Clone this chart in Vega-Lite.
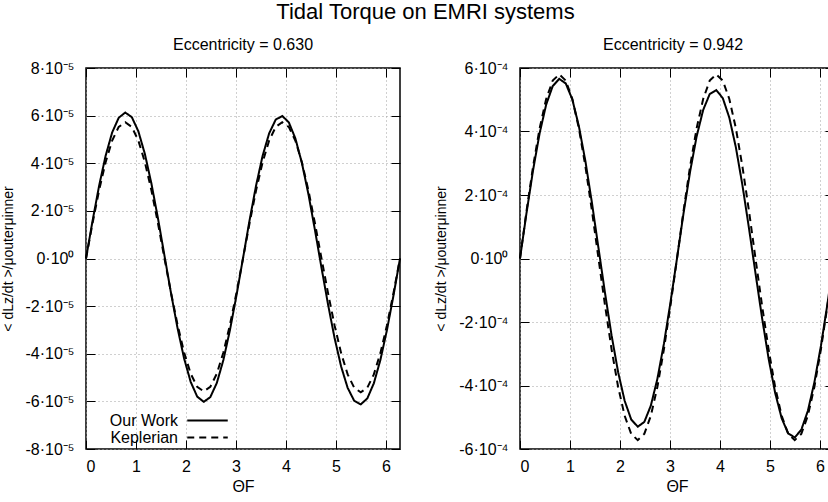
{
  "$schema": "https://vega.github.io/schema/vega-lite/v6.json",
  "padding": {"left": 0, "top": 1, "right": 0, "bottom": 0},
  "background": "white",
  "title": {"text": "Tidal Torque on EMRI systems", "fontSize": 22, "font": "Liberation Sans", "fontWeight": "normal", "color": "black", "anchor": "middle", "offset": 12, "dx": 6},
  "spacing": 29,
  "config": {
    "view": {"stroke": "black", "strokeWidth": 1.5},
    "axis": {"labelFont": "Liberation Sans", "labelFontSize": 16, "labelColor": "black", "titleFont": "Liberation Sans", "titleFontWeight": "normal", "titleColor": "black", "titleFontSize": 16, "tickColor": "black", "tickSize": -9, "tickWidth": 1, "domain": false, "gridColor": "#a0a0a0", "gridDash": [1, 3], "gridWidth": 1, "labelPadding": 18}
  },
  "resolve": {"scale": {"x": "independent", "y": "independent", "strokeDash": "independent"}, "legend": {"strokeDash": "independent"}},
  "datasets": {
    "left": [
      {"theta":0,"torque":0,"model":"Our Work"},
      {"theta":0.1309,"torque":1.578e-5,"model":"Our Work"},
      {"theta":0.2618,"torque":3.048e-5,"model":"Our Work"},
      {"theta":0.3927,"torque":4.314e-5,"model":"Our Work"},
      {"theta":0.5236,"torque":5.294e-5,"model":"Our Work"},
      {"theta":0.6545,"torque":5.909e-5,"model":"Our Work"},
      {"theta":0.7854,"torque":6.130e-5,"model":"Our Work"},
      {"theta":0.9163,"torque":5.938e-5,"model":"Our Work"},
      {"theta":1.0472,"torque":5.345e-5,"model":"Our Work"},
      {"theta":1.1781,"torque":4.391e-5,"model":"Our Work"},
      {"theta":1.3090,"torque":3.147e-5,"model":"Our Work"},
      {"theta":1.4399,"torque":1.690e-5,"model":"Our Work"},
      {"theta":1.5708,"torque":0.113e-5,"model":"Our Work"},
      {"theta":1.7017,"torque":-1.461e-5,"model":"Our Work"},
      {"theta":1.8326,"torque":-2.932e-5,"model":"Our Work"},
      {"theta":1.9635,"torque":-4.201e-5,"model":"Our Work"},
      {"theta":2.0944,"torque":-5.179e-5,"model":"Our Work"},
      {"theta":2.2253,"torque":-5.801e-5,"model":"Our Work"},
      {"theta":2.3562,"torque":-6.020e-5,"model":"Our Work"},
      {"theta":2.4871,"torque":-5.822e-5,"model":"Our Work"},
      {"theta":2.6180,"torque":-5.225e-5,"model":"Our Work"},
      {"theta":2.7489,"torque":-4.265e-5,"model":"Our Work"},
      {"theta":2.8798,"torque":-3.012e-5,"model":"Our Work"},
      {"theta":3.0107,"torque":-1.555e-5,"model":"Our Work"},
      {"theta":3.1416,"torque":0.010e-5,"model":"Our Work"},
      {"theta":3.2725,"torque":1.599e-5,"model":"Our Work"},
      {"theta":3.4034,"torque":3.066e-5,"model":"Our Work"},
      {"theta":3.5343,"torque":4.314e-5,"model":"Our Work"},
      {"theta":3.6652,"torque":5.258e-5,"model":"Our Work"},
      {"theta":3.7961,"torque":5.831e-5,"model":"Our Work"},
      {"theta":3.9270,"torque":5.986e-5,"model":"Our Work"},
      {"theta":4.0579,"torque":5.719e-5,"model":"Our Work"},
      {"theta":4.1888,"torque":5.047e-5,"model":"Our Work"},
      {"theta":4.3197,"torque":4.014e-5,"model":"Our Work"},
      {"theta":4.4506,"torque":2.701e-5,"model":"Our Work"},
      {"theta":4.5815,"torque":1.194e-5,"model":"Our Work"},
      {"theta":4.7124,"torque":-0.389e-5,"model":"Our Work"},
      {"theta":4.8433,"torque":-1.928e-5,"model":"Our Work"},
      {"theta":4.9742,"torque":-3.341e-5,"model":"Our Work"},
      {"theta":5.1051,"torque":-4.536e-5,"model":"Our Work"},
      {"theta":5.2360,"torque":-5.433e-5,"model":"Our Work"},
      {"theta":5.3669,"torque":-5.976e-5,"model":"Our Work"},
      {"theta":5.4978,"torque":-6.127e-5,"model":"Our Work"},
      {"theta":5.6287,"torque":-5.877e-5,"model":"Our Work"},
      {"theta":5.7596,"torque":-5.241e-5,"model":"Our Work"},
      {"theta":5.8905,"torque":-4.263e-5,"model":"Our Work"},
      {"theta":6.0214,"torque":-3.009e-5,"model":"Our Work"},
      {"theta":6.1523,"torque":-1.561e-5,"model":"Our Work"},
      {"theta":6.2832,"torque":0,"model":"Our Work"},
      {"theta":0,"torque":0,"model":"Keplerian"},
      {"theta":0.1309,"torque":1.480e-5,"model":"Keplerian"},
      {"theta":0.2618,"torque":2.860e-5,"model":"Keplerian"},
      {"theta":0.3927,"torque":4.045e-5,"model":"Keplerian"},
      {"theta":0.5236,"torque":4.954e-5,"model":"Keplerian"},
      {"theta":0.6545,"torque":5.525e-5,"model":"Keplerian"},
      {"theta":0.7854,"torque":5.720e-5,"model":"Keplerian"},
      {"theta":0.9163,"torque":5.525e-5,"model":"Keplerian"},
      {"theta":1.0472,"torque":4.954e-5,"model":"Keplerian"},
      {"theta":1.1781,"torque":4.045e-5,"model":"Keplerian"},
      {"theta":1.3090,"torque":2.860e-5,"model":"Keplerian"},
      {"theta":1.4399,"torque":1.480e-5,"model":"Keplerian"},
      {"theta":1.5708,"torque":0,"model":"Keplerian"},
      {"theta":1.7017,"torque":-1.444e-5,"model":"Keplerian"},
      {"theta":1.8326,"torque":-2.790e-5,"model":"Keplerian"},
      {"theta":1.9635,"torque":-3.946e-5,"model":"Keplerian"},
      {"theta":2.0944,"torque":-4.832e-5,"model":"Keplerian"},
      {"theta":2.2253,"torque":-5.390e-5,"model":"Keplerian"},
      {"theta":2.3562,"torque":-5.580e-5,"model":"Keplerian"},
      {"theta":2.4871,"torque":-5.390e-5,"model":"Keplerian"},
      {"theta":2.6180,"torque":-4.832e-5,"model":"Keplerian"},
      {"theta":2.7489,"torque":-3.946e-5,"model":"Keplerian"},
      {"theta":2.8798,"torque":-2.790e-5,"model":"Keplerian"},
      {"theta":3.0107,"torque":-1.444e-5,"model":"Keplerian"},
      {"theta":3.1416,"torque":0,"model":"Keplerian"},
      {"theta":3.2725,"torque":1.480e-5,"model":"Keplerian"},
      {"theta":3.4034,"torque":2.860e-5,"model":"Keplerian"},
      {"theta":3.5343,"torque":4.045e-5,"model":"Keplerian"},
      {"theta":3.6652,"torque":4.954e-5,"model":"Keplerian"},
      {"theta":3.7961,"torque":5.525e-5,"model":"Keplerian"},
      {"theta":3.9270,"torque":5.720e-5,"model":"Keplerian"},
      {"theta":4.0579,"torque":5.525e-5,"model":"Keplerian"},
      {"theta":4.1888,"torque":4.954e-5,"model":"Keplerian"},
      {"theta":4.3197,"torque":4.045e-5,"model":"Keplerian"},
      {"theta":4.4506,"torque":2.860e-5,"model":"Keplerian"},
      {"theta":4.5815,"torque":1.480e-5,"model":"Keplerian"},
      {"theta":4.7124,"torque":0,"model":"Keplerian"},
      {"theta":4.8433,"torque":-1.454e-5,"model":"Keplerian"},
      {"theta":4.9742,"torque":-2.810e-5,"model":"Keplerian"},
      {"theta":5.1051,"torque":-3.974e-5,"model":"Keplerian"},
      {"theta":5.2360,"torque":-4.867e-5,"model":"Keplerian"},
      {"theta":5.3669,"torque":-5.428e-5,"model":"Keplerian"},
      {"theta":5.4978,"torque":-5.620e-5,"model":"Keplerian"},
      {"theta":5.6287,"torque":-5.428e-5,"model":"Keplerian"},
      {"theta":5.7596,"torque":-4.867e-5,"model":"Keplerian"},
      {"theta":5.8905,"torque":-3.974e-5,"model":"Keplerian"},
      {"theta":6.0214,"torque":-2.810e-5,"model":"Keplerian"},
      {"theta":6.1523,"torque":-1.454e-5,"model":"Keplerian"},
      {"theta":6.2832,"torque":0,"model":"Keplerian"}
    ],
    "right": [
      {"theta":0,"torque":0,"model":"Our Work"},
      {"theta":0.1309,"torque":1.439e-4,"model":"Our Work"},
      {"theta":0.2618,"torque":2.784e-4,"model":"Our Work"},
      {"theta":0.3927,"torque":3.944e-4,"model":"Our Work"},
      {"theta":0.5236,"torque":4.846e-4,"model":"Our Work"},
      {"theta":0.6545,"torque":5.430e-4,"model":"Our Work"},
      {"theta":0.7854,"torque":5.658e-4,"model":"Our Work"},
      {"theta":0.9163,"torque":5.512e-4,"model":"Our Work"},
      {"theta":1.0472,"torque":5.008e-4,"model":"Our Work"},
      {"theta":1.1781,"torque":4.169e-4,"model":"Our Work"},
      {"theta":1.3090,"torque":3.063e-4,"model":"Our Work"},
      {"theta":1.4399,"torque":1.749e-4,"model":"Our Work"},
      {"theta":1.5708,"torque":0.324e-4,"model":"Our Work"},
      {"theta":1.7017,"torque":-1.092e-4,"model":"Our Work"},
      {"theta":1.8326,"torque":-2.422e-4,"model":"Our Work"},
      {"theta":1.9635,"torque":-3.579e-4,"model":"Our Work"},
      {"theta":2.0944,"torque":-4.483e-4,"model":"Our Work"},
      {"theta":2.2253,"torque":-5.071e-4,"model":"Our Work"},
      {"theta":2.3562,"torque":-5.298e-4,"model":"Our Work"},
      {"theta":2.4871,"torque":-5.149e-4,"model":"Our Work"},
      {"theta":2.6180,"torque":-4.635e-4,"model":"Our Work"},
      {"theta":2.7489,"torque":-3.791e-4,"model":"Our Work"},
      {"theta":2.8798,"torque":-2.684e-4,"model":"Our Work"},
      {"theta":3.0107,"torque":-1.387e-4,"model":"Our Work"},
      {"theta":3.1416,"torque":0.005e-4,"model":"Our Work"},
      {"theta":3.2725,"torque":1.427e-4,"model":"Our Work"},
      {"theta":3.4034,"torque":2.734e-4,"model":"Our Work"},
      {"theta":3.5343,"torque":3.844e-4,"model":"Our Work"},
      {"theta":3.6652,"torque":4.678e-4,"model":"Our Work"},
      {"theta":3.7961,"torque":5.178e-4,"model":"Our Work"},
      {"theta":3.9270,"torque":5.305e-4,"model":"Our Work"},
      {"theta":4.0579,"torque":5.051e-4,"model":"Our Work"},
      {"theta":4.1888,"torque":4.434e-4,"model":"Our Work"},
      {"theta":4.3197,"torque":3.501e-4,"model":"Our Work"},
      {"theta":4.4506,"torque":2.312e-4,"model":"Our Work"},
      {"theta":4.5815,"torque":0.958e-4,"model":"Our Work"},
      {"theta":4.7124,"torque":-0.465e-4,"model":"Our Work"},
      {"theta":4.8433,"torque":-1.867e-4,"model":"Our Work"},
      {"theta":4.9742,"torque":-3.148e-4,"model":"Our Work"},
      {"theta":5.1051,"torque":-4.227e-4,"model":"Our Work"},
      {"theta":5.2360,"torque":-5.031e-4,"model":"Our Work"},
      {"theta":5.3669,"torque":-5.512e-4,"model":"Our Work"},
      {"theta":5.4978,"torque":-5.636e-4,"model":"Our Work"},
      {"theta":5.6287,"torque":-5.394e-4,"model":"Our Work"},
      {"theta":5.7596,"torque":-4.802e-4,"model":"Our Work"},
      {"theta":5.8905,"torque":-3.903e-4,"model":"Our Work"},
      {"theta":6.0214,"torque":-2.753e-4,"model":"Our Work"},
      {"theta":6.1523,"torque":-1.427e-4,"model":"Our Work"},
      {"theta":6.2832,"torque":0,"model":"Our Work"},
      {"theta":0,"torque":0,"model":"Keplerian"},
      {"theta":0.1309,"torque":1.501e-4,"model":"Keplerian"},
      {"theta":0.2618,"torque":2.900e-4,"model":"Keplerian"},
      {"theta":0.3927,"torque":4.101e-4,"model":"Keplerian"},
      {"theta":0.5236,"torque":5.023e-4,"model":"Keplerian"},
      {"theta":0.6545,"torque":5.602e-4,"model":"Keplerian"},
      {"theta":0.7854,"torque":5.800e-4,"model":"Keplerian"},
      {"theta":0.9163,"torque":5.602e-4,"model":"Keplerian"},
      {"theta":1.0472,"torque":5.023e-4,"model":"Keplerian"},
      {"theta":1.1781,"torque":4.101e-4,"model":"Keplerian"},
      {"theta":1.3090,"torque":2.900e-4,"model":"Keplerian"},
      {"theta":1.4399,"torque":1.501e-4,"model":"Keplerian"},
      {"theta":1.5708,"torque":0,"model":"Keplerian"},
      {"theta":1.7017,"torque":-1.480e-4,"model":"Keplerian"},
      {"theta":1.8326,"torque":-2.860e-4,"model":"Keplerian"},
      {"theta":1.9635,"torque":-4.045e-4,"model":"Keplerian"},
      {"theta":2.0944,"torque":-4.954e-4,"model":"Keplerian"},
      {"theta":2.2253,"torque":-5.525e-4,"model":"Keplerian"},
      {"theta":2.3562,"torque":-5.720e-4,"model":"Keplerian"},
      {"theta":2.4871,"torque":-5.525e-4,"model":"Keplerian"},
      {"theta":2.6180,"torque":-4.954e-4,"model":"Keplerian"},
      {"theta":2.7489,"torque":-4.045e-4,"model":"Keplerian"},
      {"theta":2.8798,"torque":-2.860e-4,"model":"Keplerian"},
      {"theta":3.0107,"torque":-1.480e-4,"model":"Keplerian"},
      {"theta":3.1416,"torque":0,"model":"Keplerian"},
      {"theta":3.2725,"torque":1.501e-4,"model":"Keplerian"},
      {"theta":3.4034,"torque":2.900e-4,"model":"Keplerian"},
      {"theta":3.5343,"torque":4.101e-4,"model":"Keplerian"},
      {"theta":3.6652,"torque":5.023e-4,"model":"Keplerian"},
      {"theta":3.7961,"torque":5.602e-4,"model":"Keplerian"},
      {"theta":3.9270,"torque":5.800e-4,"model":"Keplerian"},
      {"theta":4.0579,"torque":5.602e-4,"model":"Keplerian"},
      {"theta":4.1888,"torque":5.023e-4,"model":"Keplerian"},
      {"theta":4.3197,"torque":4.101e-4,"model":"Keplerian"},
      {"theta":4.4506,"torque":2.900e-4,"model":"Keplerian"},
      {"theta":4.5815,"torque":1.501e-4,"model":"Keplerian"},
      {"theta":4.7124,"torque":0,"model":"Keplerian"},
      {"theta":4.8433,"torque":-1.480e-4,"model":"Keplerian"},
      {"theta":4.9742,"torque":-2.860e-4,"model":"Keplerian"},
      {"theta":5.1051,"torque":-4.045e-4,"model":"Keplerian"},
      {"theta":5.2360,"torque":-4.954e-4,"model":"Keplerian"},
      {"theta":5.3669,"torque":-5.525e-4,"model":"Keplerian"},
      {"theta":5.4978,"torque":-5.720e-4,"model":"Keplerian"},
      {"theta":5.6287,"torque":-5.525e-4,"model":"Keplerian"},
      {"theta":5.7596,"torque":-4.954e-4,"model":"Keplerian"},
      {"theta":5.8905,"torque":-4.045e-4,"model":"Keplerian"},
      {"theta":6.0214,"torque":-2.860e-4,"model":"Keplerian"},
      {"theta":6.1523,"torque":-1.480e-4,"model":"Keplerian"},
      {"theta":6.2832,"torque":0,"model":"Keplerian"}
    ]
  },
  "hconcat": [
    {
      "width": 314,
      "height": 381,
      "data": {"name": "left"},
      "title": {"text": "Eccentricity = 0.630", "fontSize": 16, "font": "Liberation Sans", "fontWeight": "normal", "color": "black", "anchor": "middle", "frame": "group", "offset": 7},
      "resolve": {"axis": {"x": "independent", "y": "independent"}},
      "layer": [
        {
          "mark": {"type": "line", "color": "black", "strokeWidth": 2},
          "encoding": {
            "x": {"field": "theta", "type": "quantitative", "scale": {"domain": [0, 6.2832], "nice": false, "zero": false},
                  "axis": {"values": [0, 1, 2, 3, 4, 5, 6], "title": "ΘF", "grid": true, "titlePadding": 4}},
            "y": {"field": "torque", "type": "quantitative", "scale": {"domain": [-8e-5, 8e-5], "nice": false},
                  "axis": {"values": [-8e-5, -6e-5, -4e-5, -2e-5, 0, 2e-5, 4e-5, 6e-5, 8e-5], "labelExpr": "datum.value == 0 ? '0·10⁰' : round(datum.value*1e5) + '·10⁻⁵'", "title": "< dLz/dt >/μouterμinner", "titleFontSize": 14, "grid": true, "titlePadding": 10, "labelPadding": 21}},
            "strokeDash": {"field": "model", "type": "nominal", "scale": {"domain": ["Our Work", "Keplerian"], "range": [[1, 0], [7, 5]]},
                  "legend": {"title": null, "orient": "none", "legendX": 113, "legendY": 344, "labelAlign": "right", "labelOffset": -38, "symbolType": "M-2.7,0H2.7", "symbolSize": 225, "symbolStrokeWidth": 2, "symbolStrokeColor": "black", "symbolFillColor": "transparent", "labelFontSize": 16, "labelFont": "Liberation Sans", "labelColor": "black", "rowPadding": -2, "padding": 0}}
          }
        },
        {
          "mark": {"type": "point", "opacity": 0},
          "encoding": {
            "x": {"field": "theta", "type": "quantitative", "axis": {"orient": "top", "values": [0, 1, 2, 3, 4, 5, 6], "labels": false, "title": null, "grid": false}},
            "y": {"field": "torque", "type": "quantitative", "axis": {"orient": "right", "values": [-8e-5, -6e-5, -4e-5, -2e-5, 0, 2e-5, 4e-5, 6e-5, 8e-5], "labels": false, "title": null, "grid": false}}
          }
        }
      ]
    },
    {
      "width": 314,
      "height": 381,
      "data": {"name": "right"},
      "title": {"text": "Eccentricity = 0.942", "fontSize": 16, "font": "Liberation Sans", "fontWeight": "normal", "color": "black", "anchor": "middle", "frame": "group", "offset": 7, "dx": -4},
      "resolve": {"axis": {"x": "independent", "y": "independent"}},
      "layer": [
        {
          "mark": {"type": "line", "color": "black", "strokeWidth": 2},
          "encoding": {
            "x": {"field": "theta", "type": "quantitative", "scale": {"domain": [0, 6.2832], "nice": false, "zero": false},
                  "axis": {"values": [0, 1, 2, 3, 4, 5, 6], "title": "ΘF", "grid": true, "titlePadding": 4}},
            "y": {"field": "torque", "type": "quantitative", "scale": {"domain": [-6e-4, 6e-4], "nice": false},
                  "axis": {"values": [-6e-4, -4e-4, -2e-4, 0, 2e-4, 4e-4, 6e-4], "labelExpr": "datum.value == 0 ? '0·10⁰' : round(datum.value*1e4) + '·10⁻⁴'", "title": "< dLz/dt >/μouterμinner", "titleFontSize": 14, "grid": true, "titlePadding": 10, "labelPadding": 21}},
            "strokeDash": {"field": "model", "type": "nominal", "scale": {"domain": ["Our Work", "Keplerian"], "range": [[1, 0], [7, 5]]}, "legend": null}
          }
        },
        {
          "mark": {"type": "point", "opacity": 0},
          "encoding": {
            "x": {"field": "theta", "type": "quantitative", "axis": {"orient": "top", "values": [0, 1, 2, 3, 4, 5, 6], "labels": false, "title": null, "grid": false}},
            "y": {"field": "torque", "type": "quantitative", "axis": {"orient": "right", "values": [-6e-4, -4e-4, -2e-4, 0, 2e-4, 4e-4, 6e-4], "labels": false, "title": null, "grid": false}}
          }
        }
      ]
    }
  ]
}
